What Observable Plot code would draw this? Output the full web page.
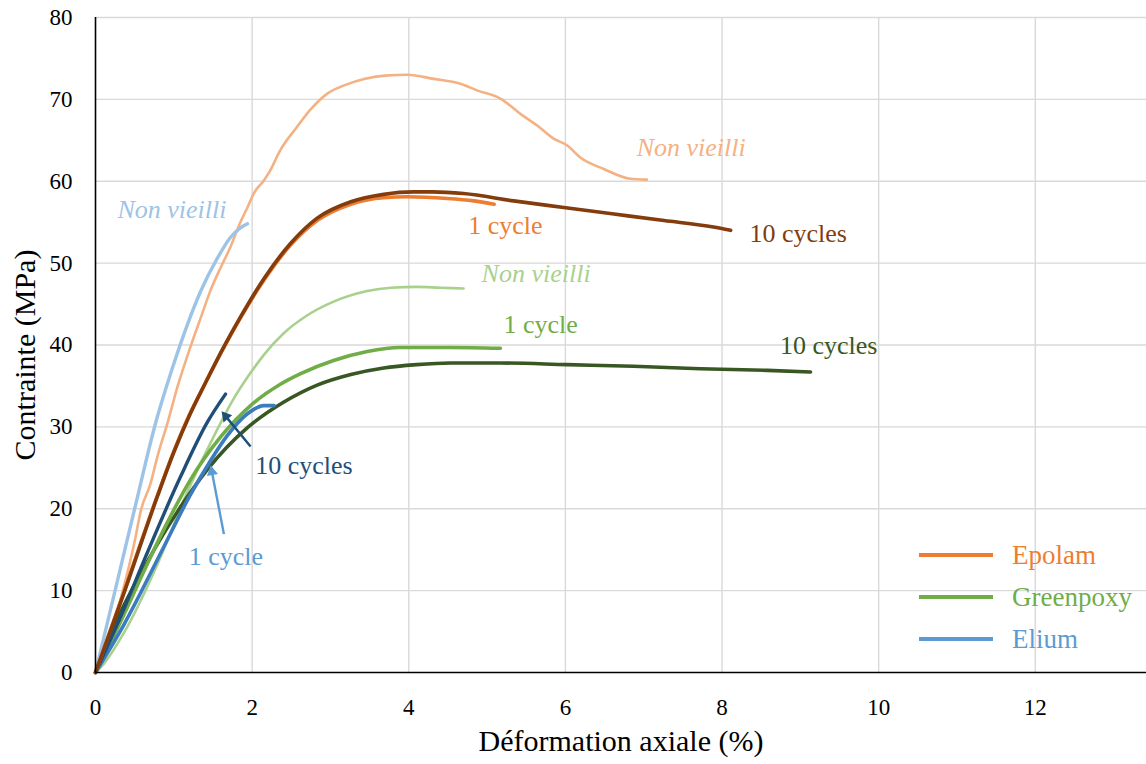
<!DOCTYPE html>
<html><head><meta charset="utf-8">
<script src="https://cdn.jsdelivr.net/npm/d3@7"></script>
<script src="https://cdn.jsdelivr.net/npm/@observablehq/plot@0.6"></script>
<style>
body{margin:0;background:#fff;font-family:"Liberation Serif",serif;}
#wrap{position:relative;width:1146px;height:764px;}
#legend{position:absolute;left:919px;top:534px;font-family:"Liberation Serif",serif;font-size:27px;}
#legend div{display:flex;align-items:center;height:42px;}
#legend span.sw{display:inline-block;width:74px;height:4px;margin-right:19px;}
#chart g[aria-label$="tick label"]{font-size:23px;}
#chart g[aria-label$="tick label"] text{font-size:23px;}
</style></head>
<body><div id="wrap"><div id="chart"></div><div id="legend"></div></div>
<script>
// Strain (%) / stress (MPa) curves
const epolamNonVieilli = [[0,0],[0.2,5],[0.36,10.4],[0.5,16],[0.58,19.8],[0.7,23],[0.8,26.7],[0.92,30.5],[1.05,35],[1.21,39.7],[1.35,43.5],[1.47,46.7],[1.6,49.5],[1.72,51.9],[1.85,55],[1.94,56.8],[2.02,58.5],[2.15,60.1],[2.23,61.3],[2.36,63.8],[2.57,66.6],[2.75,68.8],[2.96,70.7],[3.2,71.8],[3.43,72.5],[3.7,72.9],[3.98,73.0],[4.32,72.5],[4.66,71.9],[4.87,71.1],[5.17,70.1],[5.43,68.2],[5.64,66.8],[5.85,65.2],[6.02,64.4],[6.19,62.9],[6.49,61.5],[6.83,60.3],[7.04,60.2]];
const epolam1Cycle = [[0,0],[0.36,9.8],[0.79,21.6],[1.0,27.0],[1.2,31.5],[1.4,35.3],[1.64,39.7],[1.85,43.3],[2.15,47.9],[2.49,52.2],[2.83,55.2],[3.26,57.2],[3.68,58.0],[3.98,58.1],[4.49,57.9],[4.83,57.6],[5.09,57.2]];
const epolam10Cycles = [[0,0],[0.36,9.6],[0.79,21.5],[1.0,26.9],[1.2,31.4],[1.4,35.3],[1.64,39.8],[1.85,43.4],[2.15,48.1],[2.49,52.4],[2.83,55.5],[3.26,57.5],[3.68,58.4],[4.06,58.7],[4.3,58.7],[4.70,58.5],[5.34,57.6],[5.98,56.8],[6.62,56.0],[7.26,55.2],[7.89,54.4],[8.11,54.0]];
const greenpoxyNonVieilli = [[0,0],[0.1,1.0],[0.36,4.8],[0.79,13.2],[1.17,22.0],[1.55,29.6],[1.75,33.2],[1.98,36.6],[2.15,38.8],[2.40,41.4],[2.70,43.6],[3.04,45.3],[3.47,46.6],[3.77,47.0],[4.1,47.1],[4.4,47.0],[4.70,46.9]];
const greenpoxy1Cycle = [[0,0],[0.3,5.8],[0.6,12],[0.9,18],[1.21,23.5],[1.6,28.8],[1.98,32.6],[2.36,35.2],[2.62,36.5],[3.04,38.1],[3.47,39.2],[3.89,39.7],[4.53,39.7],[5.17,39.6]];
const greenpoxy10Cycles = [[0,0],[0.23,5.5],[0.66,13.5],[1.085,20.2],[1.43,24.8],[1.94,29.9],[2.40,33.0],[2.83,35.1],[3.26,36.4],[3.68,37.2],[4.1,37.6],[4.53,37.8],[5.17,37.8],[6.02,37.6],[6.87,37.4],[7.72,37.1],[8.58,36.9],[9.13,36.7]];
const eliumNonVieilli = [[0,0],[0.26,10.4],[0.52,20.8],[0.76,30.2],[1.0,37.7],[1.17,42.4],[1.34,46.5],[1.55,50.5],[1.72,53.1],[1.85,54.3],[1.94,54.8]];
const elium1Cycle = [[0,0],[0.36,5.8],[0.87,15.3],[1.2,21.5],[1.47,25.9],[1.68,28.9],[1.94,31.6],[2.15,32.6],[2.28,32.6]];
const elium10Cycles = [[0,0],[0.32,6.8],[0.66,14.6],[1.085,23.9],[1.43,30.6],[1.66,34.0]];

// Annotation labels
const labelX = [6.91, 0.28, 4.76, 8.35, 4.93, 5.21, 8.74, 2.04, 1.19];
const labelY = [64.1, 56.5, 54.6, 53.6, 48.7, 42.5, 39.9, 25.3, 14.2];
const labelText = ["Non vieilli","Non vieilli","1 cycle","10 cycles","Non vieilli","1 cycle","10 cycles","10 cycles","1 cycle"];
const labelSeries = ["epolamNV","eliumNV","epolam1","epolam10","greenNV","green1","green10","elium10","elium1text"];
// Arrows
const arrowFrom = [[1.98,27.6],[1.64,16.9]];
const arrowTo = [[1.61,31.9],[1.47,25.3]];
const arrowSeries = ["elium10","elium1text"];

const xTicks = [0,2,4,6,8,10,12];
const yTicks = [0,10,20,30,40,50,60,70,80];
const legendNames = ["Epolam","Greenpoxy","Elium"];

const colors = {
  epolamNV:"#F4B183", epolam1:"#ED7D31", epolam10:"#843C0C",
  greenNV:"#A9D18E", green1:"#70AD47", green10:"#385723",
  eliumNV:"#9DC3E6", elium1:"#3A7CBF", elium1text:"#5B9BD5", elium10:"#1F4E79"
};
const widths = {epolamNV:2.6, epolam1:3.6, epolam10:3.6, greenNV:2.6, green1:3.6, green10:3.6, eliumNV:3.4, elium1:3.6, elium10:3.4};
const legendColors = ["#ED7D31","#70AD47","#5B9BD5"];

const W = 1146, H = 764, mL = 95, mR = 0, mT = 17, mB = 92;
const xDomain = [0, 13.42], yDomain = [0, 80];

const seriesList = [
  ["epolamNV", epolamNonVieilli], ["greenNV", greenpoxyNonVieilli], ["eliumNV", eliumNonVieilli],
  ["green10", greenpoxy10Cycles], ["green1", greenpoxy1Cycle],
  ["elium1", elium1Cycle], ["elium10", elium10Cycles],
  ["epolam1", epolam1Cycle], ["epolam10", epolam10Cycles]
];
const rows = seriesList.flatMap(([s, arr]) => arr.map(([x,y]) => ({s, x, y})));
const labels = labelText.map((t,i) => ({x:labelX[i], y:labelY[i], t, s:labelSeries[i], italic: t==="Non vieilli"}));

// Arrow heads: filled triangles oriented along the shaft in screen space
const sx = Plot.scale({x:{domain:xDomain, range:[mL, W-mR]}});
const sy = Plot.scale({y:{domain:yDomain, range:[H-mB, mT]}});
const headR = 4.2, tipDist = 2*Math.sqrt(Math.PI*headR*headR/(3*Math.sqrt(3)));
const arrows = arrowFrom.map((f,i) => {
  const t = arrowTo[i];
  const px1 = sx.apply(f[0]), py1 = sy.apply(f[1]), px2 = sx.apply(t[0]), py2 = sy.apply(t[1]);
  const dx = px2-px1, dy = py2-py1, L = Math.hypot(dx,dy);
  const ux = dx/L, uy = dy/L;
  const cx = px2 - ux*tipDist, cy = py2 - uy*tipDist;
  const bx = px2 - ux*tipDist*1.4, by = py2 - uy*tipDist*1.4;
  return {x1:f[0], y1:f[1], x2:sx.invert(bx), y2:sy.invert(by), hx:sx.invert(cx), hy:sy.invert(cy),
          rot: Math.atan2(dx, -dy)*180/Math.PI, s:arrowSeries[i]};
});

const font = "Liberation Serif";
const plot = Plot.plot({
  width:W, height:H,
  marginLeft:mL, marginRight:mR, marginTop:mT, marginBottom:mB,
  style:{fontFamily:font, fontSize:"23px", background:"#fff", color:"#000"},
  x:{domain:xDomain},
  y:{domain:yDomain},
  marks:[
    Plot.gridX(xTicks.filter(d=>d>0), {stroke:"#d9d9d9", strokeOpacity:1, strokeWidth:1.4}),
    Plot.gridY(yTicks.filter(d=>d>0), {stroke:"#d9d9d9", strokeOpacity:1, strokeWidth:1.4}),
    Plot.axisX(xTicks, {tickSize:0, tickPadding:26, label:null, fill:"#000", fontSize:23}),
    Plot.axisY(yTicks, {tickSize:0, tickPadding:23, label:null, fill:"#000", fontSize:23}),
    ...seriesList.map(([s]) => Plot.line(rows.filter(r=>r.s===s), {x:"x", y:"y", stroke:colors[s], strokeWidth:widths[s], curve:"monotone-x"})),
    Plot.ruleX([0], {stroke:"#000", strokeWidth:1.6}),
    Plot.ruleY([0], {stroke:"#000", strokeWidth:1.6}),
    Plot.link(arrows, {x1:"x1", y1:"y1", x2:"x2", y2:"y2", stroke:d=>colors[d.s], strokeWidth:2.4}),
    Plot.dot(arrows, {x:"hx", y:"hy", symbol:"triangle", r:headR, rotate:"rot", fill:d=>colors[d.s], stroke:"none"}),
    Plot.text(labels.filter(d=>d.italic), {x:"x", y:"y", text:"t", fill:d=>colors[d.s], textAnchor:"start", fontSize:26, fontStyle:"italic"}),
    Plot.text(labels.filter(d=>!d.italic), {x:"x", y:"y", text:"t", fill:d=>colors[d.s], textAnchor:"start", fontSize:26}),
    Plot.text(["Déformation axiale (%)"], {frameAnchor:"bottom", dy:78, fontSize:30, fill:"#000"}),
    Plot.text(["Contrainte (MPa)"], {frameAnchor:"left", dx:-70, dy:10, rotate:-90, textAnchor:"middle", fontSize:30, fill:"#000"})
  ]
});
document.getElementById("chart").appendChild(plot);
const lg = document.getElementById("legend");
legendNames.forEach((n,i) => {
  const d = document.createElement("div");
  d.innerHTML = `<span class="sw" style="background:${legendColors[i]}"></span><span style="color:${legendColors[i]}">${n}</span>`;
  lg.appendChild(d);
});
</script></body></html>
